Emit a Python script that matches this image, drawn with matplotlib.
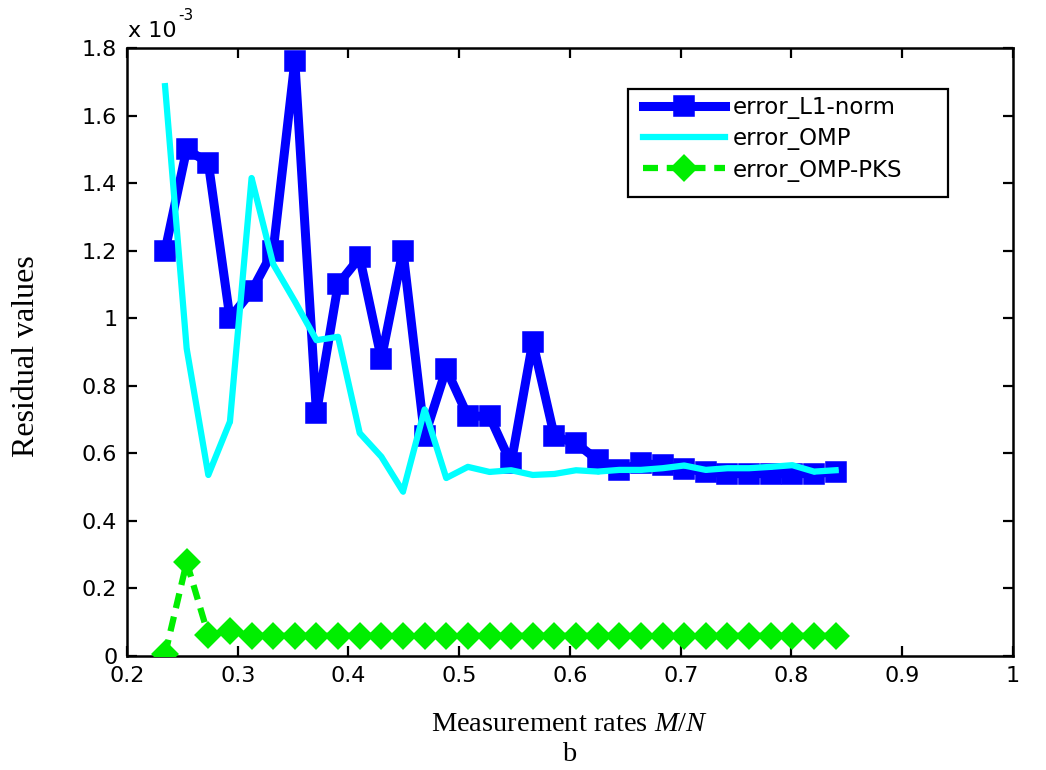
import numpy as np
import matplotlib
matplotlib.use('Agg')
import matplotlib.pyplot as plt
from matplotlib.patches import Rectangle
from matplotlib.ticker import FuncFormatter, MultipleLocator

plt.rcParams['mathtext.fontset'] = 'custom'
plt.rcParams['mathtext.rm'] = 'Liberation Serif'
plt.rcParams['mathtext.it'] = 'Liberation Serif:italic'

# measurement rates M/N with N = 256
M = np.arange(60, 216, 5)
rates = M / 256.0

err_l1 = np.array([1.20, 1.50, 1.46, 1.00, 1.08, 1.20, 1.76, 0.72, 1.10, 1.18,
                   0.88, 1.20, 0.65, 0.85, 0.71, 0.71, 0.57, 0.93, 0.65, 0.63,
                   0.58, 0.55, 0.57, 0.565, 0.555, 0.545, 0.54, 0.54, 0.54, 0.54,
                   0.54, 0.545]) * 1e-3
err_omp = np.array([1.687, 0.91, 0.536, 0.694, 1.415, 1.16, 1.05, 0.935, 0.945, 0.66,
                    0.59, 0.487, 0.73, 0.527, 0.56, 0.545, 0.55, 0.536, 0.539, 0.55,
                    0.546, 0.551, 0.551, 0.556, 0.564, 0.551, 0.556, 0.556, 0.56, 0.565,
                    0.546, 0.55]) * 1e-3
err_pks = np.array([0.005, 0.278, 0.062, 0.075, 0.06, 0.06, 0.06, 0.06, 0.06, 0.06,
                    0.06, 0.06, 0.06, 0.06, 0.06, 0.06, 0.06, 0.06, 0.06, 0.06,
                    0.06, 0.06, 0.06, 0.06, 0.06, 0.06, 0.06, 0.06, 0.06, 0.06,
                    0.06, 0.06]) * 1e-3

fig = plt.figure(figsize=(10.46, 7.70), dpi=100)
ax = fig.add_axes([0.1214, 0.148, 0.847, 0.7897])

ax.plot(rates, err_l1, '-s', color='#0000ff', lw=6.5, ms=12, mew=4,
        mfc='#0000ff', mec='#0000ff', label='error_L1-norm', zorder=2)
ax.plot(rates, err_omp, '-', color='#00ffff', lw=4.5, marker='.', ms=4,
        label='error_OMP', zorder=3)
ax.plot(rates, err_pks, '--D', color='#00ee00', lw=4.5, ms=11, mew=3,
        mfc='#00ee00', mec='#00ee00', dashes=(2.4, 1.4), label='error_OMP-PKS',
        zorder=4)

ax.set_xlim(0.2, 1.0)
ax.set_ylim(0, 1.8e-3)
ax.xaxis.set_major_locator(MultipleLocator(0.1))
ax.yaxis.set_major_locator(MultipleLocator(0.2e-3))
ax.xaxis.set_major_formatter(FuncFormatter(lambda v, p: '%g' % round(v, 3)))
ax.yaxis.set_major_formatter(FuncFormatter(lambda v, p: '%g' % round(v * 1e3, 3)))

ax.tick_params(direction='in', length=7, width=1.6, top=True, right=True,
               labelsize=16, pad=7)
for lab in ax.get_xticklabels() + ax.get_yticklabels():
    lab.set_family('DejaVu Sans')
for sp in ax.spines.values():
    sp.set_linewidth(1.8)

# exponent label above the y axis
ax.text(0.001, 1.018, 'x 10', transform=ax.transAxes, fontsize=16,
        family='DejaVu Sans', ha='left', va='baseline')
ax.text(0.058, 1.046, '-3', transform=ax.transAxes, fontsize=11,
        family='DejaVu Sans', ha='left', va='baseline')

fig.text(0.025, 0.5377, 'Residual values', family='Liberation Serif',
         fontsize=23, rotation=90, ha='center', va='center')
fig.text(0.5445, 0.0506, 'Measurement rates $\\mathit{M/N}$', family='Liberation Serif',
         fontsize=20.5, ha='center', va='baseline')
fig.text(0.5445, 0.0120, 'b', family='Liberation Serif', fontsize=20.5,
         ha='center', va='baseline')

# legend box is wider than its contents, so the frame is drawn separately
ax.add_patch(Rectangle((0.5655, 0.755), 0.3611, 0.1776, transform=ax.transAxes,
                       facecolor='white', edgecolor='black', lw=1.6, zorder=5))
leg = ax.legend(loc='upper left', bbox_to_anchor=(0.5824, 0.921),
                prop={'family': 'DejaVu Sans', 'size': 16.5},
                handlelength=3.6, handletextpad=0.3, labelspacing=0.36,
                frameon=False, borderpad=0.0, borderaxespad=0.0)
leg.set_zorder(6)

fig.savefig('out.png', dpi=100)
